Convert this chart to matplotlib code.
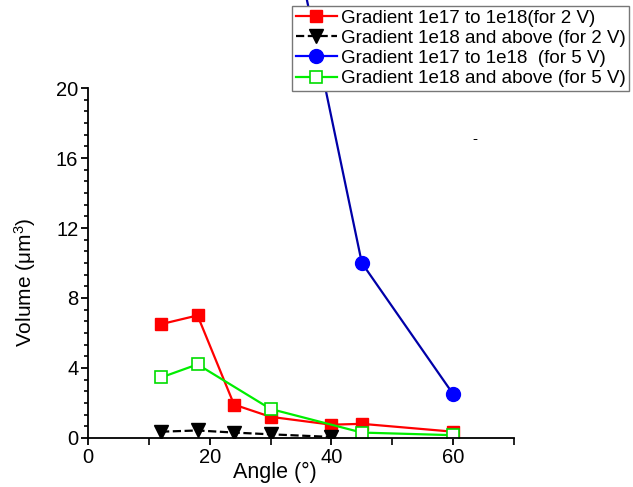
import matplotlib.pyplot as plt
from matplotlib.ticker import MultipleLocator, AutoMinorLocator

plt.rcParams['font.family'] = ['Liberation Sans', 'DejaVu Sans']
plt.rcParams['mathtext.fontset'] = 'custom'
plt.rcParams['mathtext.rm'] = 'Liberation Sans'
plt.rcParams['mathtext.it'] = 'Liberation Sans'

# Dados
angle_red = [12, 18, 24, 30, 40, 45, 60]
vol_red = [6.5, 7.0, 1.9, 1.2, 0.75, 0.8, 0.35]

angle_black = [12, 18, 24, 30, 40]
vol_black = [0.35, 0.42, 0.3, 0.2, 0.05]

angle_blue = [30, 45, 60]
vol_blue = [35.0, 10.0, 2.5]

angle_green = [12, 18, 30, 45, 60]
vol_green = [3.45, 4.2, 1.65, 0.3, 0.15]

labels = ["Gradient 1e17 to 1e18(for 2 V)",
          "Gradient 1e18 and above (for 2 V)",
          "Gradient 1e17 to 1e18  (for 5 V)",
          "Gradient 1e18 and above (for 5 V)"]

fig = plt.figure(figsize=(6.33, 4.87), dpi=100)
ax = fig.add_axes([0.139, 0.101, 0.673, 0.718])

ax.plot(angle_red, vol_red, '-s', color='#ff0000', lw=1.6, ms=9,
        label=labels[0])
ax.plot(angle_black, vol_black, '--v', color='black', lw=1.6, ms=10,
        label=labels[1])
ax.plot(angle_blue, vol_blue, '-', color='#0000a8', lw=1.6, clip_on=False)
ax.plot(angle_blue[1:], vol_blue[1:], 'o', color='#0000ff', ms=10)
ax.plot([], [], '-o', color='#0000ff', lw=1.6, ms=10, label=labels[2])
ax.plot(angle_green, vol_green, '-s', color='#00ee00', lw=1.6, ms=9,
        mfc='white', mec='#00dd00', mew=1.2, label=labels[3])

ax.text(63.6, 17.1, '-', ha='center', va='center', fontsize=11)

ax.set_xlim(0, 70)
ax.set_ylim(0, 20)
ax.spines['top'].set_visible(False)
ax.spines['right'].set_visible(False)
ax.spines['left'].set_linewidth(1.3)
ax.spines['bottom'].set_linewidth(1.3)

ax.xaxis.set_major_locator(MultipleLocator(20))
ax.xaxis.set_minor_locator(MultipleLocator(10))
ax.yaxis.set_major_locator(MultipleLocator(4))
ax.yaxis.set_minor_locator(AutoMinorLocator(6))
ax.tick_params(which='major', direction='out', length=5, width=1.3,
               labelsize=14.5, pad=2)
ax.tick_params(which='minor', direction='out', length=3, width=1.2)
ax.tick_params(axis='x', which='minor', length=5)

ax.set_xlabel("Angle (°)", fontsize=15.5)
ax.xaxis.set_label_coords(0.438, -0.068)
ax.set_ylabel("Volume (μm$^{3}$)", fontsize=15)
ax.yaxis.set_label_coords(-0.118, 0.445)

fig.legend(loc='upper right', bbox_to_anchor=(0.994, 0.988), fontsize=13.5,
           frameon=True, fancybox=False, framealpha=1, edgecolor='#777777',
           handlelength=2.2, handletextpad=0.2, labelspacing=0.16,
           borderpad=0.2, borderaxespad=0)

fig.savefig('out.png', dpi=100)
